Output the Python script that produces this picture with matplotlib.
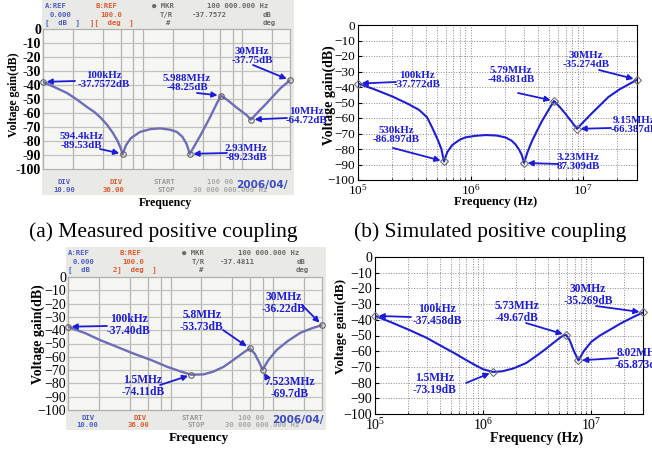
import matplotlib
matplotlib.use('Agg')
import matplotlib.pyplot as plt
from matplotlib.patches import Rectangle

plt.rcParams['font.family'] = ['Liberation Serif', 'DejaVu Serif']
plt.rcParams['mathtext.fontset'] = 'stix'

# ---------------- data ----------------
yticks = [0, -10, -20, -30, -40, -50, -60, -70, -80, -90, -100]

# top-left: measured
tl_f = [1e5, 1.3e5, 1.74e5, 2.2e5, 2.76e5, 3.3e5, 3.73e5, 4.4e5, 5.03e5, 5.6e5, 6.0e5, 6.3e5,
        6.8e5, 7.6e5, 9.4e5, 1.2e6, 1.5e6, 1.9e6, 2.2e6, 2.5e6, 2.75e6, 2.97e6, 3.3e6, 3.76e6,
        4.7e6, 5.5e6, 6.1e6, 7e6, 8.7e6, 1.1e7, 1.22e7, 1.45e7, 1.75e7, 2.4e7, 3e7]
tl_db = [-37.8, -41.5, -45.7, -50.5, -55.7, -59.5, -62.9, -68.5, -74.3, -80, -85, -89.3,
         -83, -78, -73.5, -71.5, -71, -72, -73.5, -77, -82, -89.2, -83.5, -76.5,
         -63.5, -53.5, -47.6, -50.5, -56, -61.5, -64.7, -59, -53, -42.4, -36.6]
tl_mk_f = [1e5, 6.3e5, 6.1e6, 3e7, 1.22e7, 2.97e6]
tl_mk_db = [-37.8, -89.3, -47.6, -36.6, -64.7, -89.2]
tl_lbl = ["100kHz\n-37.7572dB", "594.4kHz\n-89.53dB", "5.988MHz\n-48.25dB",
          "30MHz\n-37.75dB", "10MHz\n-64.72dB", "2.93MHz\n-89.23dB"]

# top-right: simulated
tr_f = [1e5, 1.4e5, 2.03e5, 2.8e5, 3.49e5, 4.1e5, 4.58e5, 5.1e5, 5.5e5, 5.8e5, 6.2e5, 6.88e5,
        8e5, 9e5, 1.1e6, 1.36e6, 1.7e6, 2.03e6, 2.3e6, 2.5e6, 2.7e6, 2.85e6, 2.98e6, 3.2e6,
        3.5e6, 3.9e6, 4.3e6, 4.9e6, 5.5e6, 6.2e6, 6.9e6, 7.8e6, 8.8e6, 9.6e6, 1.19e7, 1.4e7,
        1.67e7, 2.1e7, 2.5e7, 3e7]
tr_db = [-37.8, -41.5, -46.2, -51, -54.8, -59.5, -66.5, -74, -80, -88, -82, -77.4,
         -74, -72.5, -71.5, -71, -71.3, -72.5, -74.5, -77, -80.5, -84, -89, -82,
         -75, -68, -62, -55, -49, -53, -57, -62, -67, -64, -57, -52,
         -46.5, -41.5, -38.5, -35.3]
tr_mk_f = [1e5, 5.8e5, 5.5e6, 3e7, 8.8e6, 2.98e6]
tr_mk_db = [-37.8, -88, -49, -35.3, -67, -89]
tr_lbl = ["100kHz\n-37.772dB", "530kHz\n-86.897dB", "5.79MHz\n-48.681dB",
          "30MHz\n-35.274dB", "9.15MHz\n-66.387dB", "3.23MHz\n87.309dB"]

# bottom-left: measured
bl_f = [1e5, 1.5e5, 2.05e5, 3e5, 4.3e5, 6.5e5, 9.2e5, 1.25e6, 1.6e6, 2.1e6, 2.6e6, 3.3e6,
        4.1e6, 5e6, 5.9e6, 6.6e6, 7.3e6, 7.9e6, 9e6, 1.08e7, 1.4e7, 1.84e7, 2.4e7, 3e7]
bl_db = [-37.4, -42.5, -47.4, -52.5, -57.4, -62.5, -67.4, -71, -73.5, -73.2, -71.2, -67.5,
         -62.4, -57.5, -53.7, -57.5, -64, -69.7, -62.5, -55, -48, -42, -38.5, -36.2]
bl_mk_f = [1e5, 1.6e6, 5.9e6, 3e7, 7.9e6]
bl_mk_db = [-37.4, -73.5, -53.7, -36.2, -69.7]
bl_lbl = ["100kHz\n-37.40dB", "1.5MHz\n-74.11dB", "5.8MHz\n-53.73dB",
          "30MHz\n-36.22dB", "7.523MHz\n-69.7dB"]

# bottom-right: simulated
br_f = [1e5, 1.4e5, 2.08e5, 3e5, 4.2e5, 5.5e5, 6.95e5, 8.5e5, 1.0e6, 1.23e6, 1.5e6, 1.9e6,
        2.5e6, 3.1e6, 3.8e6, 4.4e6, 5.0e6, 5.5e6, 5.85e6, 6.3e6, 6.9e6, 7.6e6, 8.5e6, 1.0e7,
        1.2e7, 1.47e7, 1.9e7, 2.4e7, 3e7]
br_db = [-37.5, -41.5, -46.5, -51.5, -57.1, -61.5, -65.6, -69, -71.5, -73.2, -72.8, -71,
         -67.5, -63, -58.5, -55, -52, -50, -49.7, -53, -60, -65.9, -60, -54,
         -50, -46.5, -42, -38.5, -35.3]
br_mk_f = [1e5, 1.23e6, 5.85e6, 3e7, 7.6e6]
br_mk_db = [-37.5, -73.2, -49.7, -35.3, -65.9]
br_lbl = ["100kHz\n-37.458dB", "1.5MHz\n-73.19dB", "5.73MHz\n-49.67dB",
          "30MHz\n-35.269dB", "8.02MHz\n-65.873dB"]

captions = ["(a) Measured positive coupling", "(b) Simulated positive coupling"]

# ---------------- layout helpers ----------------
W, H = 652, 449
fig = plt.figure(figsize=(W / 100, H / 100), dpi=100)

def box(x0, y0, x1, y1):
    return [x0 / W, 1 - y1 / H, (x1 - x0) / W, (y1 - y0) / H]

def fp(x, y):
    return (x / W, 1 - y / H)

BLUE = '#1c1cd8'
MONO = 'DejaVu Sans Mono'

def annotate(ax, mk_f, mk_db, labels, text_xy, arrow_from, size, marker, mcol):
    for f, d, lab, (tx, ty), (ax0, ay0) in zip(mk_f, mk_db, labels, text_xy, arrow_from):
        fig.text(tx / W, 1 - ty / H, lab, ha='center', va='center', color=BLUE,
                 fontsize=size, fontweight='bold', linespacing=1.05, zorder=6)
        ax.annotate('', xy=(f, d), xycoords='data', xytext=(ax0, H - ay0),
                    textcoords='figure pixels', annotation_clip=False,
                    arrowprops=dict(arrowstyle='-|>', color=BLUE, lw=1.3,
                                    mutation_scale=8, shrinkA=0, shrinkB=2.5))
    ax.plot(mk_f, mk_db, ls='none', marker=marker, ms=4, mfc='none', mec=mcol,
            mew=0.8, clip_on=False, zorder=5)

def measured(photo, rect, f, db, tick_fmt, tick_size, tick_bold, ylab, ylab_xy, ylab_size,
             xlab_xy, xlab_size, header, footer, date_xy):
    x0, y0, x1, y1 = photo
    bg = Rectangle(fp(x0, y1), (x1 - x0) / W, (y1 - y0) / H,
                   transform=fig.transFigure, facecolor='#e9e9e6',
                   edgecolor='none', zorder=-5)
    fig.add_artist(bg)
    ax = fig.add_axes(box(*rect))
    ax.set_zorder(1)
    ax.set_facecolor('#f6f6f3')
    ax.set_xscale('log')
    ax.set_xlim(1e5, 3e7)
    ax.set_ylim(-100, 0)
    for e in (5, 6, 7):
        for k in (1, 2, 4, 6, 8):
            v = k * 10 ** e
            if 1e5 < v < 3e7:
                ax.axvline(v, color='#b4b4b1', lw=0.9, zorder=1)
    for h in yticks[1:-1]:
        ax.axhline(h, color='#c2c2be', lw=0.9, zorder=1)
    ax.plot(f, db, color='#6e6eb8', lw=1.7, zorder=3, solid_capstyle='round')
    ax.set_xticks([])
    ax.set_xticks([], minor=True)
    ax.set_yticks(yticks)
    ax.set_yticks([], minor=True)
    ax.set_yticklabels([tick_fmt(t) for t in yticks], fontsize=tick_size,
                       fontweight='bold' if tick_bold else 'normal')
    ax.tick_params(axis='y', length=0, pad=1.5)
    for s in ax.spines.values():
        s.set_color('#b0b0ad')
        s.set_linewidth(0.9)
    fig.text(ylab_xy[0] / W, 1 - ylab_xy[1] / H, ylab, rotation=90, ha='center', va='center',
             fontsize=ylab_size, fontweight='bold')
    fig.text(xlab_xy[0] / W, 1 - xlab_xy[1] / H, 'Frequency', ha='center', va='center',
             fontsize=xlab_size, fontweight='bold')
    for txt, x, y, c in header + footer:
        fig.text(x / W, 1 - y / H, txt, ha='left', va='center', color=c, family=MONO,
                 fontsize=5.2, fontweight='bold')
    fig.text(date_xy[0] / W, 1 - date_xy[1] / H, '2006/04/', ha='right', va='center',
             color='#3d4cc2', family='DejaVu Sans', fontsize=7.6, fontweight='bold')
    return ax

def simulated(rect, f, db, tick_size, ylab_xy, ylab_size, xlab_xy, xlab_size):
    ax = fig.add_axes(box(*rect))
    ax.set_xscale('log')
    ax.set_xlim(1e5, 3e7)
    ax.set_ylim(-100, 0)
    ax.set_yticks(yticks)
    ax.grid(True, which='both', ls=':', color='#8a8a8a', lw=0.7)
    ax.plot(f, db, color='#1f1fd2', lw=1.5, zorder=3)
    ax.tick_params(which='both', direction='in', labelsize=tick_size, pad=2)
    ax.tick_params(which='major', length=3)
    ax.tick_params(which='minor', length=1.5)
    for s in ax.spines.values():
        s.set_linewidth(0.8)
    fig.text(ylab_xy[0] / W, 1 - ylab_xy[1] / H, 'Voltage gain(dB)', rotation=90,
             ha='center', va='center', fontsize=ylab_size, fontweight='bold')
    fig.text(xlab_xy[0] / W, 1 - xlab_xy[1] / H, 'Frequency (Hz)', ha='center',
             va='center', fontsize=xlab_size, fontweight='bold')
    return ax

HB, HR, HG = '#4b5cc8', '#e2582e', '#6a6a66'

# ---------------- top-left ----------------
tl_header = [('A:REF', 45, 6, HB), ('0.000', 50, 15, HB), ('[  dB  ]', 45, 23, HB),
             ('B:REF', 95, 6, HR), ('100.0', 100, 15, HR), ('][  deg  ]', 90, 23, HR),
             ('\u25cf MKR', 152, 6, HG), ('T/R', 160, 15, HG), ('#', 166, 23, HG),
             ('100 000.000 Hz', 207, 6, HG), ('-37.7572', 192, 15, HG),
             ('dB', 263, 15, HG), ('deg', 263, 23, HG)]
tl_footer = [('DIV', 57, 182, HB), ('10.00', 53, 190, HB), ('DIV', 109, 182, HR),
             ('36.00', 103, 190, HR), ('START', 153, 182, '#9a9a96'), ('STOP', 158, 190, '#9a9a96'),
             ('100 00', 207, 182, '#a8a8a4'), ('30 000 000.000 Hz', 193, 190, '#a8a8a4')]
ax_tl = measured((42, 0, 294, 195), (43, 29, 290, 169), tl_f, tl_db,
                 lambda t: '%d' % t, 10, True, 'Voltage gain(dB)', (14, 95), 8.5,
                 (165, 203), 8.5, tl_header, tl_footer, (288, 185))
annotate(ax_tl, tl_mk_f, tl_mk_db, tl_lbl,
         [(104, 80), (81, 141), (187, 83), (252, 56), (306, 116), (246, 153)],
         [(75, 81), (100, 149), (197, 93), (253, 65), (287, 118), (227, 153)],
         7.8, 'o', '#606060')

# ---------------- top-right ----------------
ax_tr = simulated((358, 25, 637, 180), tr_f, tr_db, 9.5, (329, 95), 10, (496, 202), 9)
annotate(ax_tr, tr_mk_f, tr_mk_db, tr_lbl,
         [(417, 80), (396, 135), (511, 75), (586, 60), (634, 125), (578, 162)],
         [(396, 82), (393, 148), (518, 93), (599, 70), (611, 128), (558, 164)],
         7.8, 'D', '#707070')

# ---------------- captions ----------------
fig.text(163 / W, 1 - 232 / H, captions[0], ha='center', va='center', fontsize=15.5)
fig.text(490 / W, 1 - 232 / H, captions[1], ha='center', va='center', fontsize=15.5)

# ---------------- bottom-left ----------------
bl_header = [('A:REF', 68, 253, HB), ('0.000', 73, 262, HB), ('[  dB  ', 68, 270, HB),
             ('B:REF', 120, 253, HR), ('100.0', 122, 262, HR), ('2]  deg  ]', 113, 270, HR),
             ('\u25cf MKR', 182, 253, HG), ('T/R', 192, 262, HG), ('#', 199, 270, HG),
             ('100 000.000 Hz', 238, 253, HG), ('-37.4811', 220, 262, HG),
             ('dB', 297, 262, HG), ('deg', 296, 270, HG)]
bl_footer = [('DIV', 82, 418, HB), ('10.00', 76, 425, HB), ('DIV', 133, 418, HR),
             ('36.00', 128, 425, HR), ('START', 182, 418, '#9a9a96'), ('STOP', 187, 425, '#9a9a96'),
             ('100 00', 238, 418, '#a8a8a4'), ('30 000 000.000 Hz', 225, 425, '#a8a8a4')]
ax_bl = measured((66, 247, 326, 430), (68, 277, 322, 410), bl_f, bl_db,
                 lambda t: '%d' % t if t == 0 else '\u2212%d' % -t, 10, False,
                 'Voltage gain(dB)', (38, 334), 10, (199, 438), 9.5, bl_header, bl_footer,
                 (324, 420))
annotate(ax_bl, bl_mk_f, bl_mk_db, bl_lbl,
         [(129, 325), (143, 386), (202, 321), (284, 303), (290, 388)],
         [(107, 326), (160, 385), (223, 330), (302, 305), (267, 378)],
         8.3, 'o', '#606060')

# ---------------- bottom-right ----------------
ax_br = simulated((375, 257, 643, 414), br_f, br_db, 10, (341, 326), 9.5, (537, 438), 10)
annotate(ax_br, br_mk_f, br_mk_db, br_lbl,
         [(437, 315), (435, 384), (517, 312), (588, 295), (639, 359)],
         [(411, 317), (466, 383), (526, 323), (596, 306), (618, 358)],
         8.3, 'D', '#707070')

fig.savefig('out.png', dpi=100)
